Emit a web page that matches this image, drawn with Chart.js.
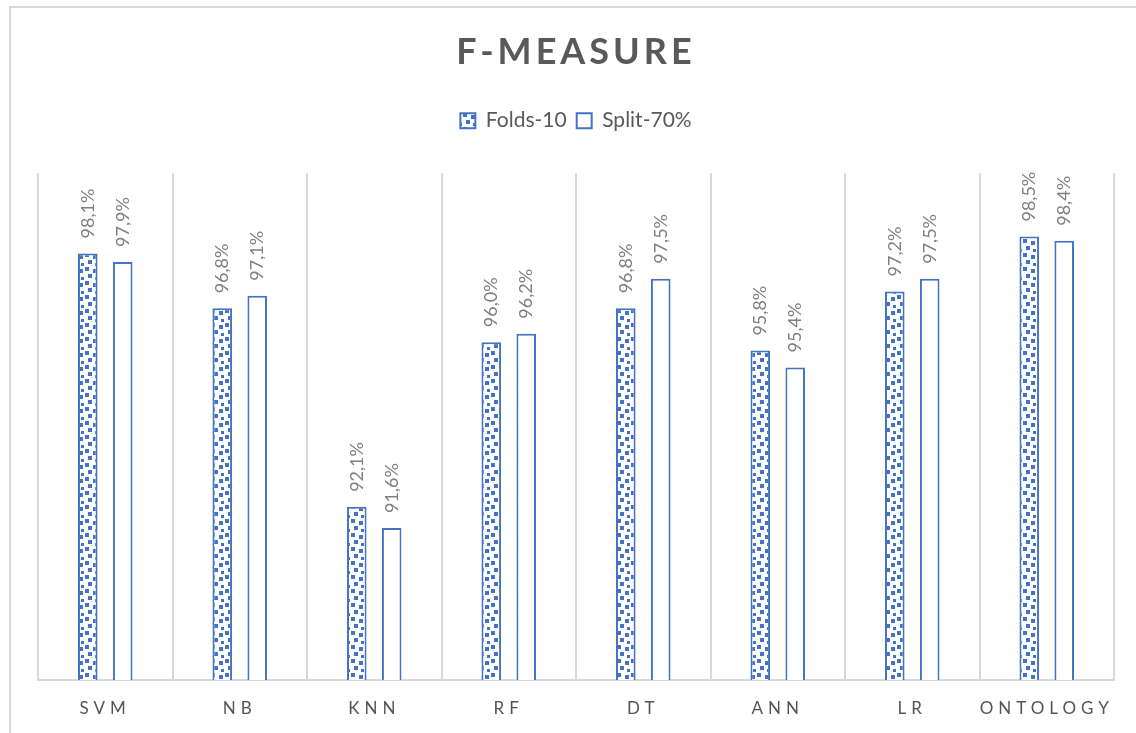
<!DOCTYPE html>
<html>
<head>
<meta charset="utf-8">
<title>F-Measure</title>
<script src="https://cdn.jsdelivr.net/npm/chart.js@4.4.1/dist/chart.umd.min.js"></script>
<style>
  body { margin: 0; background: #fff; }
  #wrap { position: relative; width: 1136px; height: 733px; overflow: hidden; }
  #frame { position: absolute; left: 9px; top: 6px; width: 1200px; height: 800px;
           border-left: 2px solid #d9d9d9; border-top: 2px solid #d9d9d9; }
  #chart { position: absolute; left: 0; top: 0; }
</style>
</head>
<body>
<div id="wrap">
  <div id="frame"></div>
  <canvas id="chart" width="1136" height="733"></canvas>
</div>
<script>
// F-Measure chart data
const categories = ["SVM", "NB", "KNN", "RF", "DT", "ANN", "LR", "ONTOLOGY"];
const folds10 = [98.1, 96.8, 92.1, 96.0, 96.8, 95.8, 97.2, 98.5];
const split70 = [97.9, 97.1, 91.6, 96.2, 97.5, 95.4, 97.5, 98.4];
const seriesNames = ["Folds-10", "Split-70%"];

const BLUE = "#4472c4";

// confetti-like fill for the Folds-10 bars
function makePattern() {
    const tile = document.createElement("canvas");
    tile.width = 14;
    tile.height = 14;
    const c = tile.getContext("2d");
    c.fillStyle = "#ffffff";
    c.fillRect(0, 0, 14, 14);
    c.fillStyle = BLUE;
    c.fillRect(1, 1, 4, 4);
    c.fillRect(9, 3, 4, 4);
    c.fillRect(4, 8, 4, 4);
    c.fillRect(11, 11, 3, 3);
    return c.createPattern(tile, "repeat");
}

function fmt(v) {
    return v.toFixed(1).replace(".", ",") + "%";
}

// wrap a draw function so it uses letter spacing
function spaced(obj, name, sp) {
    if (!obj || obj["_sp_" + name]) return;
    const orig = obj[name];
    obj[name] = function (...args) {
        const c = this.ctx;
        c.save();
        c.letterSpacing = sp;
        orig.apply(this, args);
        c.restore();
    };
    obj["_sp_" + name] = true;
}

const spacingPlugin = {
    id: "spacing",
    beforeDraw(chart) {
        spaced(chart.titleBlock, "draw", "4px");
        spaced(chart.scales.x, "drawLabels", "5px");
    }
};

// rotated value labels above bars
const valueLabels = {
    id: "valueLabels",
    afterDatasetsDraw(chart) {
        const ctx = chart.ctx;
        ctx.save();
        ctx.fillStyle = "#7f7f7f";
        ctx.font = "18px Lato";
        ctx.textAlign = "left";
        ctx.textBaseline = "middle";
        chart.data.datasets.forEach((ds, i) => {
            chart.getDatasetMeta(i).data.forEach((bar, j) => {
                ctx.save();
                ctx.translate(bar.x, bar.y - 15);
                ctx.rotate(-Math.PI / 2);
                ctx.fillText(fmt(ds.data[j]), 0, 0);
                ctx.restore();
            });
        });
        ctx.restore();
    }
};

Chart.defaults.font.family = "Lato";
Chart.defaults.color = "#595959";

const ctx = document.getElementById("chart").getContext("2d");

new Chart(ctx, {
    type: "bar",
    data: {
        labels: categories,
        datasets: [
            {
                label: seriesNames[0],
                data: folds10,
                backgroundColor: makePattern(),
                borderColor: BLUE,
                borderWidth: 2,
                borderSkipped: false
            },
            {
                label: seriesNames[1],
                data: split70,
                backgroundColor: "#ffffff",
                borderColor: BLUE,
                borderWidth: 2,
                borderSkipped: false
            }
        ]
    },
    options: {
        responsive: false,
        animation: false,
        devicePixelRatio: 1,
        categoryPercentage: 0.52,
        barPercentage: 0.56,
        layout: {
            padding: { left: 38, right: 22, top: 0, bottom: 0 }
        },
        plugins: {
            title: {
                display: true,
                text: "F-MEASURE",
                color: "#595959",
                font: { size: 36, weight: "bold" },
                padding: { top: 31, bottom: 26 }
            },
            legend: {
                labels: {
                    boxWidth: 15,
                    boxHeight: 15,
                    color: "#595959",
                    font: { size: 21 },
                    padding: 10
                }
            },
            tooltip: { enabled: false }
        },
        scales: {
            x: {
                grid: { color: "#d9d9d9", lineWidth: 2, drawTicks: false },
                border: { color: "#d9d9d9", width: 2 },
                ticks: {
                    color: "#555555",
                    font: { size: 17 },
                    padding: 18
                },
                afterFit: (s) => { s.height = 53; }
            },
            x2: {
                type: "category",
                position: "top",
                grid: { display: false },
                border: { display: false },
                ticks: { display: false },
                afterFit: (s) => { s.height = 32; }
            },
            y: {
                display: false,
                min: 88,
                max: 100
            }
        }
    },
    plugins: [spacingPlugin, valueLabels]
});
</script>
</body>
</html>
